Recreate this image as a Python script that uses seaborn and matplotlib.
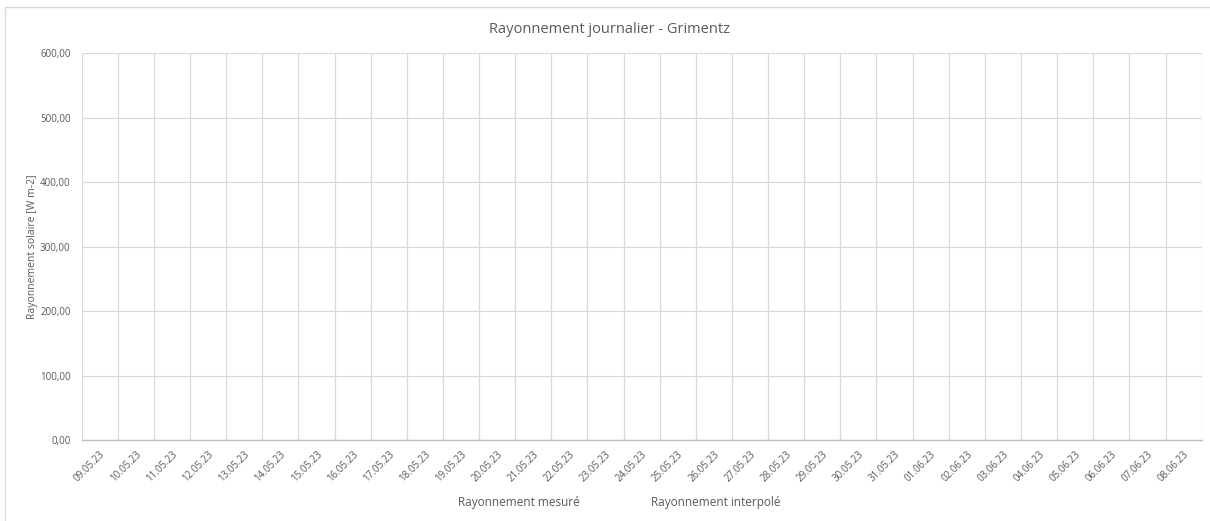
import numpy as np
import matplotlib
matplotlib.use("Agg")
import matplotlib.pyplot as plt
import seaborn as sns
from matplotlib.lines import Line2D
from matplotlib.patches import Rectangle
from matplotlib.ticker import FuncFormatter

sns.set_theme(style="white")
plt.rcParams['font.family'] = ['Open Sans', 'DejaVu Sans']

# Data (the chart shows no values for either series)
dates = ['09.05.23', '10.05.23', '11.05.23', '12.05.23', '13.05.23', '14.05.23',
         '15.05.23', '16.05.23', '17.05.23', '18.05.23', '19.05.23', '20.05.23',
         '21.05.23', '22.05.23', '23.05.23', '24.05.23', '25.05.23', '26.05.23',
         '27.05.23', '28.05.23', '29.05.23', '30.05.23', '31.05.23', '01.06.23',
         '02.06.23', '03.06.23', '04.06.23', '05.06.23', '06.06.23', '07.06.23',
         '08.06.23']
mesure = [np.nan] * len(dates)
interpole = [np.nan] * len(dates)
series_names = ['Rayonnement mesuré', 'Rayonnement interpolé']
yticks = [0, 100, 200, 300, 400, 500, 600]

grid_c = '#d9d9d9'
text_c = '#595959'

fig = plt.figure(figsize=(12.1, 5.21), dpi=100)
ax = fig.add_axes([0.0675, 0.155, 0.9256, 0.7427])

idx = np.arange(len(dates))
sns.lineplot(x=idx, y=mesure, ax=ax, color='#4472c4')
sns.lineplot(x=idx, y=interpole, ax=ax, color='#ed7d31')

ax.set_xlim(-0.5, len(dates) - 0.5)
ax.set_ylim(0, 600)
ax.set_yticks(yticks)
ax.yaxis.set_major_formatter(FuncFormatter(lambda v, p: f'{v:.2f}'.replace('.', ',')))
ax.set_xticks(idx)
ax.set_xticklabels(dates, rotation=45, ha='right', rotation_mode='anchor')
ax.set_xticks(np.arange(len(dates) + 1) - 0.5, minor=True)

ax.grid(True, axis='y', color=grid_c, linewidth=0.9)
ax.grid(True, axis='x', which='minor', color=grid_c, linewidth=0.9)
ax.grid(False, axis='x', which='major')
ax.tick_params(axis='both', which='both', length=0, labelsize=7, labelcolor=text_c)
ax.tick_params(axis='x', pad=6)
ax.tick_params(axis='y', pad=8)

for s in ['top', 'right', 'left']:
    ax.spines[s].set_visible(False)
ax.spines['bottom'].set_color('#bfbfbf')
ax.spines['bottom'].set_linewidth(1.0)

ax.set_ylabel('Rayonnement solaire [W m-2]', fontsize=7.5, color=text_c, labelpad=1.5)
ax.set_xlabel('')

fig.text(0.504, 0.944, 'Rayonnement journalier - Grimentz', ha='center', va='center',
         fontsize=10.5, color=text_c)

handles = [Line2D([], [], color='none') for _ in series_names]
leg = fig.legend(handles, series_names, loc='center', bbox_to_anchor=(0.5116, 0.036),
                 ncol=2, frameon=False, handlelength=0, handletextpad=0,
                 columnspacing=6.0, fontsize=8.5)
for t in leg.get_texts():
    t.set_color(text_c)

# Light chart border (left and top visible, rest cropped)
fig.patches.append(Rectangle((5 / 1210, -0.1), 1.2, 1 - 7 / 521 + 0.1,
                             transform=fig.transFigure, fill=False,
                             edgecolor=grid_c, linewidth=1.0))

fig.savefig('out.png', dpi=100)
